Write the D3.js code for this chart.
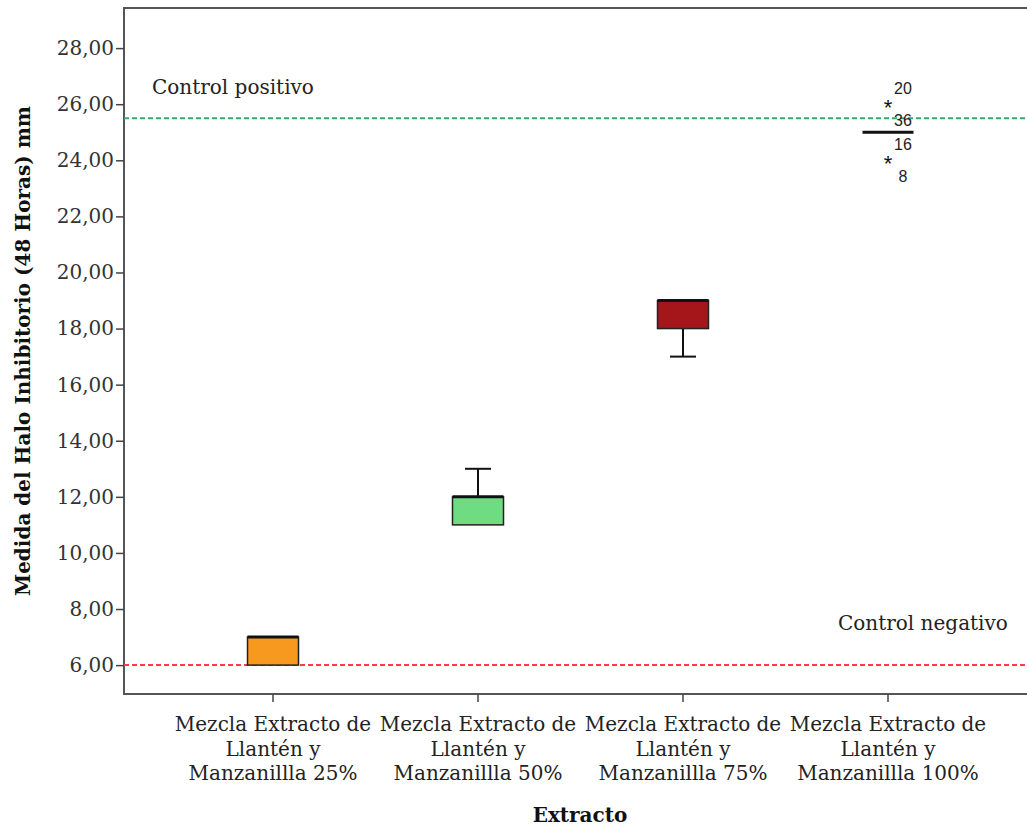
<!DOCTYPE html>
<html>
<head>
<meta charset="utf-8">
<script src="https://cdn.jsdelivr.net/npm/d3@7"></script>
<style>
  body { margin: 0; background: #fff; }
</style>
</head>
<body>
<script>
// data
var CATEGORIES = [
    "Mezcla Extracto de|Llantén y|Manzanillla 25%",
    "Mezcla Extracto de|Llantén y|Manzanillla 50%",
    "Mezcla Extracto de|Llantén y|Manzanillla 75%",
    "Mezcla Extracto de|Llantén y|Manzanillla 100%"
];
var Q1 = [6, 11, 18, 25];
var MEDIAN = [7, 12, 19, 25];
var Q3 = [7, 12, 19, 25];
var WHISKER_LOW = [6, 11, 17, 25];
var WHISKER_HIGH = [7, 13, 19, 25];
var BOX_COLORS = ["#f7981f", "#6fdc82", "#a5161b"];
// outliers: category index, value, case labels (above, below)
var OUTLIER_CAT = [3, 3];
var OUTLIER_VAL = [26, 24];
var OUTLIER_LABELS = [["20", "36"], ["16", "8"]];
var Y_TICKS = [6, 8, 10, 12, 14, 16, 18, 20, 22, 24, 26, 28];
var REF_POS = 25.5, REF_NEG = 6;

var W = 1027, H = 826;
var MARGINS = {top: 8, bottom: 132, left: 124, right: -20};
var SERIF = "'DejaVu Serif', serif";
var SANS = "'Liberation Sans', Arial, sans-serif";

var svg = d3.select("body").append("svg")
    .attr("width", W)
    .attr("height", H);

// scales
var yScale = d3.scaleLinear()
    .domain([4.97, 29.43])
    .range([H - MARGINS.bottom, MARGINS.top]);

var xScale = d3.scaleBand()
    .domain(d3.range(CATEGORIES.length))
    .range([170.5, 990.5]);

function cx(i) { return xScale(i) + xScale.bandwidth() / 2; }

// frame (top + right run off the picture)
svg.append("rect")
    .attr("x", MARGINS.left)
    .attr("y", MARGINS.top)
    .attr("width", W - MARGINS.left - MARGINS.right)
    .attr("height", H - MARGINS.bottom - MARGINS.top)
    .attr("fill", "none")
    .attr("stroke", "#555")
    .attr("stroke-width", 2);

// y axis
var yAxis = d3.axisLeft(yScale)
    .tickValues(Y_TICKS)
    .tickSize(8)
    .tickPadding(2)
    .tickFormat(function (d) { return d3.format(".2f")(d).replace(".", ","); });

var gy = svg.append("g")
    .attr("transform", "translate(" + MARGINS.left + ",0)")
    .call(yAxis);
gy.select(".domain").remove();
gy.selectAll(".tick line").attr("stroke", "#444").attr("stroke-width", 1.5);
gy.selectAll(".tick text")
    .style("font-family", SERIF)
    .style("font-size", "20px")
    .attr("fill", "#333");

// x axis
var xAxis = d3.axisBottom(xScale)
    .tickSize(8)
    .tickFormat("");
var gx = svg.append("g")
    .attr("transform", "translate(0," + (H - MARGINS.bottom) + ")")
    .call(xAxis);
gx.select(".domain").remove();
gx.selectAll(".tick line").attr("stroke", "#444").attr("stroke-width", 1.5);

// category labels
CATEGORIES.forEach(function (c, i) {
    var t = svg.append("text")
        .attr("text-anchor", "middle")
        .style("font-family", SERIF)
        .style("font-size", "20px")
        .attr("fill", "#222")
        .attr("x", cx(i))
        .attr("y", 731);
    c.split("|").forEach(function (line, j) {
        t.append("tspan")
            .attr("x", cx(i))
            .attr("dy", j === 0 ? 0 : 24.5)
            .text(line);
    });
});

// reference lines
svg.append("line")
    .attr("x1", MARGINS.left).attr("x2", W)
    .attr("y1", yScale(REF_POS)).attr("y2", yScale(REF_POS))
    .attr("stroke", "#2fae6a").attr("stroke-width", 2)
    .attr("stroke-dasharray", "5,3");
svg.append("line")
    .attr("x1", MARGINS.left).attr("x2", W)
    .attr("y1", yScale(REF_NEG)).attr("y2", yScale(REF_NEG))
    .attr("stroke", "#f0404c").attr("stroke-width", 2)
    .attr("stroke-dasharray", "5,3");

svg.append("text")
    .attr("x", 152).attr("y", 94)
    .style("font-family", SERIF).style("font-size", "20px")
    .attr("fill", "#222")
    .text("Control positivo");
svg.append("text")
    .attr("x", 838).attr("y", 630)
    .style("font-family", SERIF).style("font-size", "20px")
    .attr("fill", "#222")
    .text("Control negativo");

// boxes
var BOX_W = 51, CAP_W = 26;
d3.range(CATEGORIES.length).forEach(function (i) {
    var x = cx(i);
    // whiskers
    if (WHISKER_HIGH[i] > Q3[i]) {
        svg.append("line")
            .attr("x1", x).attr("x2", x)
            .attr("y1", yScale(Q3[i])).attr("y2", yScale(WHISKER_HIGH[i]))
            .attr("stroke", "#111").attr("stroke-width", 2);
        svg.append("line")
            .attr("x1", x - CAP_W / 2).attr("x2", x + CAP_W / 2)
            .attr("y1", yScale(WHISKER_HIGH[i])).attr("y2", yScale(WHISKER_HIGH[i]))
            .attr("stroke", "#111").attr("stroke-width", 2);
    }
    if (WHISKER_LOW[i] < Q1[i]) {
        svg.append("line")
            .attr("x1", x).attr("x2", x)
            .attr("y1", yScale(Q1[i])).attr("y2", yScale(WHISKER_LOW[i]))
            .attr("stroke", "#111").attr("stroke-width", 2);
        svg.append("line")
            .attr("x1", x - CAP_W / 2).attr("x2", x + CAP_W / 2)
            .attr("y1", yScale(WHISKER_LOW[i])).attr("y2", yScale(WHISKER_LOW[i]))
            .attr("stroke", "#111").attr("stroke-width", 2);
    }
    if (Q3[i] > Q1[i]) {
        svg.append("rect")
            .attr("x", x - BOX_W / 2)
            .attr("y", yScale(Q3[i]))
            .attr("width", BOX_W)
            .attr("height", yScale(Q1[i]) - yScale(Q3[i]))
            .attr("fill", BOX_COLORS[i])
            .attr("stroke", "#222")
            .attr("stroke-width", 1.5);
    }
    // median
    svg.append("line")
        .attr("x1", x - BOX_W / 2).attr("x2", x + BOX_W / 2)
        .attr("y1", yScale(MEDIAN[i])).attr("y2", yScale(MEDIAN[i]))
        .attr("stroke", "#111").attr("stroke-width", 3);
});

// outliers (extreme values)
OUTLIER_VAL.forEach(function (v, k) {
    var x = cx(OUTLIER_CAT[k]);
    var y = yScale(v);
    svg.append("text")
        .attr("x", x).attr("y", y + 11)
        .attr("text-anchor", "middle")
        .style("font-family", SANS)
        .style("font-size", "22px")
        .attr("fill", "#111")
        .text("*");
    svg.append("text")
        .attr("x", x + 15).attr("y", y - 10)
        .attr("text-anchor", "middle")
        .style("font-family", SANS)
        .style("font-size", "16px")
        .attr("fill", "#222")
        .text(OUTLIER_LABELS[k][0]);
    svg.append("text")
        .attr("x", x + 15).attr("y", y + 22)
        .attr("text-anchor", "middle")
        .style("font-family", SANS)
        .style("font-size", "16px")
        .attr("fill", "#222")
        .text(OUTLIER_LABELS[k][1]);
});

// axis titles
svg.append("text")
    .attr("transform", "translate(30," + 351 + ") rotate(-90)")
    .attr("text-anchor", "middle")
    .style("font-family", SERIF)
    .style("font-size", "20px")
    .style("font-weight", "bold")
    .attr("fill", "#111")
    .text("Medida del Halo Inhibitorio (48 Horas) mm");
svg.append("text")
    .attr("x", 580).attr("y", 822)
    .attr("text-anchor", "middle")
    .style("font-family", SERIF)
    .style("font-size", "20px")
    .style("font-weight", "bold")
    .attr("fill", "#111")
    .text("Extracto");
</script>
</body>
</html>
